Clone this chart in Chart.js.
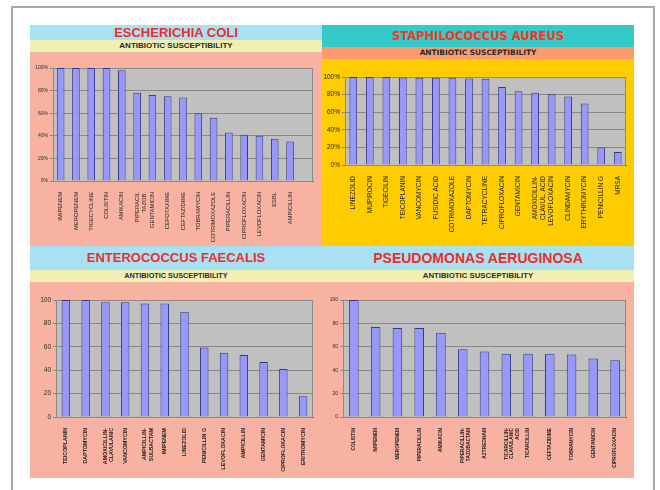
<!DOCTYPE html>
<html>
<head>
<meta charset="utf-8">
<title>Antibiotic susceptibility</title>
<script src="https://cdn.jsdelivr.net/npm/chart.js@4.4.1/dist/chart.umd.min.js"></script>
<style>
  html, body { margin: 0; padding: 0; background: #fff; }
  body { width: 660px; height: 490px; position: relative; overflow: hidden; font-family: 'Liberation Sans', Arial, sans-serif; }
  .frame { position: absolute; left: 11px; top: 6px; width: 640px; height: 520px; border: 2px solid #a8a8a8; }
  .band { position: absolute; }
  .title { position: absolute; text-align: center; font-weight: bold; white-space: nowrap; }
  canvas { position: absolute; }
</style>
</head>
<body>
<div class="frame"></div>

<!-- E. coli panel -->
<div class="band" style="left:30px;top:25px;width:292px;height:15px;background:#a8e2f2"></div>
<div class="band" style="left:30px;top:40px;width:292px;height:12px;background:#f1f0b2"></div>
<div class="band" style="left:30px;top:52px;width:292px;height:195px;background:#f8b2a2"></div>
<div class="title" style="left:30px;top:25px;width:292px;height:15px;line-height:15px;font-size:13px;color:#f02c2c">ESCHERICHIA COLI</div>
<div class="title" style="left:30px;top:40px;width:292px;height:12px;line-height:12px;font-size:8px;color:#2a2a2a">ANTIBIOTIC SUSCEPTIBILITY</div>

<!-- S. aureus panel -->
<div class="band" style="left:322px;top:25px;width:312px;height:22px;background:#35c9c9"></div>
<div class="band" style="left:322px;top:47px;width:312px;height:12px;background:#fb9a6c"></div>
<div class="band" style="left:322px;top:59px;width:312px;height:187px;background:#ffcc00"></div>
<div class="title" style="left:322px;top:25px;width:312px;height:22px;line-height:22px;font-size:11.5px;color:#f8361a;font-family:'DejaVu Sans',Verdana,sans-serif">STAPHILOCOCCUS AUREUS</div>
<div class="title" style="left:322px;top:47px;width:312px;height:12px;line-height:12px;font-size:7.4px;color:#2a2a2a;font-family:'DejaVu Sans',Verdana,sans-serif">ANTIBIOTIC SUSCEPTIBILITY</div>

<!-- bottom panels -->
<div class="band" style="left:30px;top:246px;width:604px;height:24px;background:#a8e2f2"></div>
<div class="band" style="left:30px;top:270px;width:604px;height:12px;background:#f1f0b2"></div>
<div class="band" style="left:30px;top:282px;width:604px;height:196px;background:#f8b2a2"></div>
<div class="title" style="left:30px;top:246px;width:292px;height:24px;line-height:24px;font-size:13px;color:#f02c2c">ENTEROCOCCUS FAECALIS</div>
<div class="title" style="left:30px;top:270px;width:292px;height:12px;line-height:12px;font-size:7.3px;color:#2a2a2a">ANTIBIOTIC SUSCEPTIBILITY</div>
<div class="title" style="left:322px;top:246px;width:312px;height:24px;line-height:24px;font-size:14px;color:#f02c2c">PSEUDOMONAS AERUGINOSA</div>
<div class="title" style="left:322px;top:270px;width:312px;height:12px;line-height:12px;font-size:7.8px;color:#2a2a2a">ANTIBIOTIC SUSCEPTIBILITY</div>

<canvas id="chartEcoli" width="292" height="195" style="left:30px;top:52px"></canvas>
<canvas id="chartSaureus" width="312" height="187" style="left:322px;top:59px"></canvas>
<canvas id="chartEfaecalis" width="292" height="196" style="left:30px;top:282px"></canvas>
<canvas id="chartPaeruginosa" width="312" height="196" style="left:322px;top:282px"></canvas>

<script>
// susceptibility (%) per antibiotic, one pair of arrays per organism
const ecoliLabels = ['IMIPENEM', 'MEROPENEM', 'TIGECYCLINE', 'COLISTIN', 'AMIKACIN', ['PIPERACIL', 'TAZOB.'],
  'GENTAMICIN', 'CEFOTAXIME', 'CEFTAZIDIME', 'TOBRAMYCIN', 'COTRIMOXAZOLE', 'PIPERACILLIN',
  'CIPROFLOXACIN', 'LEVOFLOXACIN', 'ESBL', 'AMPICILLIN', ''];
const ecoliValues = [100, 100, 100, 100, 98, 78, 76, 75, 74, 60, 56, 43, 41, 40, 37.5, 35, null];

const saureusLabels = ['LINEZOLID', 'MUPIROCIN', 'TIGECILIN', 'TEICOPLANIN', 'VANCOMYCIN', 'FUSIDIC ACID',
  'COTRIMOXAZOLE', 'DAPTOMYCIN', 'TETRACYCLINE', 'CIPROFLOXACIN', 'GENTAMICIN', ['AMOXICILLIN-', 'CLAVUL. ACID'],
  'LEVOFLOXACIN', 'CLINDAMYCIN', 'ERYTHROMYCIN', 'PENICILLIN G', 'MRSA'];
const saureusValues = [100, 100, 100, 99.3, 99.2, 99.2, 99.2, 98.2, 98, 88.7, 83.8, 82, 80.4, 77.7, 70, 20, 14.8];

const efaecalisLabels = ['TEICOPLANIN', 'DAPTOMYCIN', ['AMOXICILLIN-', 'CLAVULANIC'], 'VANCOMYCIN',
  ['AMPICILLIN-', 'SULBACTAM'], 'IMIPENEM', 'LINEZOLID', 'PENICILLIN G', 'LEVOFLOXACIN', 'AMPICILLIN',
  'GENTAMICIN', 'CIPROFLOXACIN', 'ERITROMYCIN'];
const efaecalisValues = [100, 100, 98, 98, 97, 97, 90, 59.5, 55, 53, 47, 41, 17.8];

const paeruginosaLabels = ['COLISTIN', 'IMIPENEM', 'MEROPENEM', 'PIPERACILLIN', 'AMIKACIN',
  ['PIPERACILLIN-', 'TAZOBACTAM'], 'AZTREONAM', ['TICARCILLIN-', 'CLAVULANIC', 'ACID'], 'TICARCILLIN',
  'CEFTAZIDIME', 'TOBRAMYCIN', 'GENTAMICIN', 'CIPROFLOXACIN'];
const paeruginosaValues = [100, 77, 76, 76, 72, 58, 56, 54, 54, 54, 53.4, 50, 48.6];

const percentTicks = ['0%', '20%', '40%', '60%', '80%', '100%'];
const plainTicks = ['0', '20', '40', '60', '80', '100'];

Chart.defaults.font.family = "'Liberation Sans', Arial, sans-serif";
Chart.defaults.devicePixelRatio = 1;

// grey plot area with a darker frame, like an old spreadsheet chart
const plotArea = {
  id: 'plotArea',
  beforeDraw(chart) {
    const { ctx, chartArea: a } = chart;
    ctx.save();
    ctx.fillStyle = '#c0c0c0';
    ctx.fillRect(a.left, a.top, a.width, a.height);
    ctx.restore();
  },
  beforeDatasetsDraw(chart) {
    const { ctx, chartArea: a } = chart;
    ctx.save();
    ctx.strokeStyle = '#8a8a8a';
    ctx.lineWidth = 1;
    ctx.strokeRect(Math.round(a.left) + 0.5, Math.round(a.top) + 0.5, Math.round(a.width) - 1, Math.round(a.height));
    ctx.restore();
  }
};

function susceptibilityChart(id, labels, values, tickLabels, o) {
  return new Chart(document.getElementById(id), {
    type: 'bar',
    data: {
      labels: labels,
      datasets: [{
        data: values,
        backgroundColor: '#9898fc',
        borderColor: '#3a3a84',
        borderWidth: 1,
        barPercentage: o.bar,
        categoryPercentage: 1,
      }]
    },
    options: {
      responsive: false,
      animation: false,
      layout: { padding: o.padding },
      scales: {
        x: {
          offset: true,
          grid: { display: false },
          border: { display: true, color: '#6a6a6a' },
          ticks: {
            autoSkip: false,
            minRotation: 90,
            maxRotation: 90,
            padding: 3,
            color: '#1e1e1e',
            font: o.labelFont,
          },
          afterFit: scale => { scale.height = o.xHeight; }
        },
        y: {
          min: 0,
          max: 100,
          grid: { color: '#888888', tickLength: 3 },
          border: { display: true, color: '#6a6a6a' },
          ticks: {
            stepSize: 20,
            padding: 2,
            color: '#2a2a2a',
            font: o.tickFont,
            callback: value => tickLabels[value / 20],
          },
          afterFit: scale => { scale.width = o.yWidth; }
        }
      },
      plugins: {
        legend: { display: false },
        tooltip: { enabled: false },
      }
    },
    plugins: [plotArea]
  });
}

susceptibilityChart('chartEcoli', ecoliLabels, ecoliValues, percentTicks, {
  padding: { top: 16, right: 9, left: 0, bottom: 0 },
  yWidth: 23, xHeight: 66, bar: 0.5,
  tickFont: { size: 5 },
  labelFont: { size: 5.8 },
});

susceptibilityChart('chartSaureus', saureusLabels, saureusValues, percentTicks, {
  padding: { top: 18, right: 8, left: 0, bottom: 0 },
  yWidth: 23, xHeight: 81, bar: 0.47,
  tickFont: { size: 6.5 },
  labelFont: { size: 6.5 },
});

susceptibilityChart('chartEfaecalis', efaecalisLabels, efaecalisValues, plainTicks, {
  padding: { top: 18, right: 9, left: 0, bottom: 0 },
  yWidth: 26, xHeight: 61, bar: 0.43,
  tickFont: { size: 6.5 },
  labelFont: { size: 5.3, weight: 'bold' },
});

susceptibilityChart('chartPaeruginosa', paeruginosaLabels, paeruginosaValues, plainTicks, {
  padding: { top: 18, right: 8, left: 0, bottom: 0 },
  yWidth: 21, xHeight: 61, bar: 0.44,
  tickFont: { size: 5 },
  labelFont: { size: 4.8, weight: 'bold' },
});
</script>
</body>
</html>
